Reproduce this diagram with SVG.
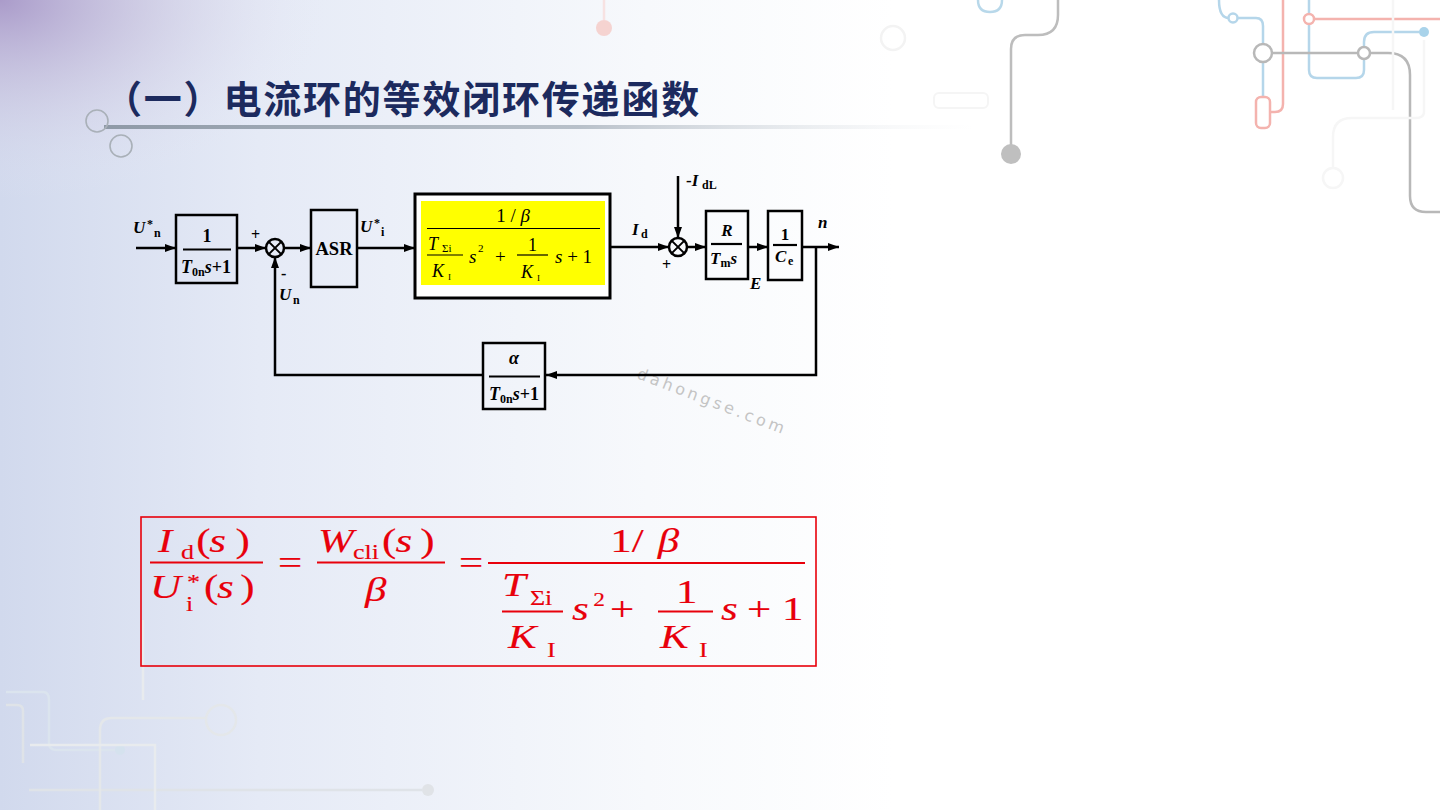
<svg xmlns="http://www.w3.org/2000/svg" width="1440" height="810" viewBox="0 0 1440 810">
<defs>
  <linearGradient id="bgL" x1="0" y1="0" x2="1" y2="0">
    <stop offset="0" stop-color="#d1d9ed"/>
    <stop offset="0.18" stop-color="#e5eaf6"/>
    <stop offset="0.45" stop-color="#f7f9fc"/>
    <stop offset="0.62" stop-color="#ffffff"/>
  </linearGradient>
  <radialGradient id="bgP" cx="0" cy="0" r="1" gradientUnits="userSpaceOnUse" gradientTransform="translate(0,0) scale(330,200)">
    <stop offset="0" stop-color="#a898c8" stop-opacity="0.95"/>
    <stop offset="0.45" stop-color="#c4bad9" stop-opacity="0.5"/>
    <stop offset="1" stop-color="#e8e8f4" stop-opacity="0"/>
  </radialGradient>
  <linearGradient id="ul" x1="0" y1="0" x2="1" y2="0">
    <stop offset="0" stop-color="#8e99a6"/>
    <stop offset="0.55" stop-color="#b9c1ca"/>
    <stop offset="1" stop-color="#e8ebee" stop-opacity="0"/>
  </linearGradient>
  <marker id="ah" viewBox="0 0 11 8" refX="11" refY="4" markerWidth="11" markerHeight="8" markerUnits="userSpaceOnUse" orient="auto">
    <path d="M0,0 L11,4 L0,8 z" fill="#000"/>
  </marker>
  <style>
    .blk { fill: none; stroke: #000; stroke-width: 2.5; }
    .ln { fill: none; stroke: #000; stroke-width: 2.5; }
    .fl { stroke: #000; stroke-width: 2.2; }
    .fl1 { stroke: #000; stroke-width: 1.2; }
    .t { font-family: "Liberation Serif", "Times New Roman", serif; font-weight: bold; fill: #000; }
    .r { font-family: "Liberation Serif", "Times New Roman", serif; fill: #000; }
    .i { font-style: italic; }
    .f { font-family: "Liberation Serif", "Times New Roman", serif; fill: #e8000b; stroke: #e8000b; stroke-width: 0.15; }
    .fline { stroke: #e8000b; stroke-width: 1.8; }
    .deco { fill: none; stroke-width: 2.5; }
  </style>
</defs>

<!-- background -->
<rect x="0" y="0" width="1440" height="810" fill="#ffffff"/>
<rect x="0" y="0" width="1440" height="810" fill="url(#bgL)"/>
<rect x="0" y="0" width="1440" height="810" fill="url(#bgP)"/>

<!-- faint decorative circuit lines -->
<g id="decor">
  <path class="deco" d="M1058,0 V15 Q1058,35 1038,35 H1025 Q1011,35 1011,49 V150" stroke="#bdbdbd"/>
  <circle cx="1011" cy="154" r="10" fill="#bfbfbf"/>
  <path class="deco" d="M978,0 Q978,12 990,12 Q1002,12 1002,0" stroke="#b8d8ea"/>
  <path class="deco" d="M1219,0 Q1219,18 1229,18" stroke="#b5d6ea"/>
  <circle cx="1233" cy="18" r="4.5" fill="#fff" stroke="#b5d6ea" stroke-width="2.5"/>
  <path class="deco" d="M1237.5,18 H1256 Q1263,18 1263,26 V97" stroke="#b5d6ea"/>
  <path class="deco" d="M1309,0 V70 Q1309,78 1317,78 H1356 Q1364,78 1364,70 V59" stroke="#b5d6ea"/>
  <path class="deco" d="M1364,47 V42 Q1364,32 1374,32 H1419" stroke="#b5d6ea"/>
  <circle cx="1424" cy="32" r="5" fill="#a9d3ea"/>
  <path class="deco" d="M1283,0 V104 Q1283,112 1275,112 H1270" stroke="#f4b3ae"/>
  <rect x="1256" y="97" width="14" height="31" rx="5" fill="#fff" stroke="#f4b3ae" stroke-width="2.5"/>
  <path class="deco" d="M1314,19 H1440" stroke="#f4b3ae"/>
  <circle cx="1309" cy="19" r="5" fill="#fff" stroke="#f4b3ae" stroke-width="2.5"/>
  <path class="deco" d="M1272,53 H1358 M1370,53 H1388 Q1410,53 1410,75 V196 Q1410,212 1426,212 H1440" stroke="#b8b8b8"/>
  <circle cx="1263" cy="53" r="9" fill="#fff" stroke="#b8b8b8" stroke-width="2.5"/>
  <circle cx="1364" cy="53" r="6" fill="#fff" stroke="#b8b8b8" stroke-width="2.5"/>
  <path class="deco" d="M1393,0 V110 M1424,40 V112 Q1424,118 1416,118 H1352 Q1333,118 1333,137 V168" stroke="#f6f6f6"/>
  <circle cx="1333" cy="178" r="10" fill="none" stroke="#f6f6f6" stroke-width="2.5"/>
  <rect x="934" y="93" width="54" height="15" rx="5" fill="none" stroke="#f5f5f5" stroke-width="2"/>
  <path class="deco" d="M604,0 V20" stroke="#f7e2e2"/>
  <circle cx="604" cy="28" r="8" fill="#f5c9c6" opacity="0.8"/>
  <circle cx="893" cy="38" r="12" fill="none" stroke="#f3f3f3" stroke-width="2.5"/>
  <!-- bottom-left -->
  <path class="deco" d="M6,692 H43 Q49,692 49,700 V743 Q49,750 57,750 H115" stroke="#dbe4ee"/>
  <circle cx="120" cy="750" r="5" fill="#d5e2ee"/>
  <path class="deco" d="M6,705 H17 Q23,705 23,711 V763 M29,790 H422" stroke="#dfe3e8"/>
  <circle cx="428" cy="790" r="6" fill="#e0e3e7"/>
  <path class="deco" d="M100,810 V730 Q100,718 112,718 H206" stroke="#e4e7ea"/>
  <circle cx="221" cy="720" r="15" fill="none" stroke="#e4e7ea" stroke-width="2.5"/>
  <path class="deco" d="M143,620 V700 M30,745 H155 V810" stroke="#e8ebee"/>
</g>

<!-- title -->
<g id="title">
  <rect x="104" y="125" width="870" height="4" fill="url(#ul)"/>
  <circle cx="97" cy="121" r="11" fill="none" stroke="#a9b0b8" stroke-width="1.6"/>
  <circle cx="121" cy="146" r="11" fill="none" stroke="#a9b0b8" stroke-width="1.6"/>
  <text x="104" y="113" font-family="Noto Sans CJK SC, sans-serif" font-size="38" font-weight="bold" fill="#1c2a5e" letter-spacing="1.8">（一）电流环的等效闭环传递函数</text>
</g>

<!-- watermark -->
<text x="636" y="378" transform="rotate(21 636 378)" font-family="DejaVu Sans, sans-serif" font-size="16" fill="#c4c4c4" letter-spacing="3.5">dahongse.com</text>

<!-- connectors -->
<g id="connectors">
  <path class="ln" d="M136,248 H176" marker-end="url(#ah)"/>
  <path class="ln" d="M237,248 H266" marker-end="url(#ah)"/>
  <path class="ln" d="M284,248 H311" marker-end="url(#ah)"/>
  <path class="ln" d="M357,248 H415" marker-end="url(#ah)"/>
  <path class="ln" d="M610,247 H669" marker-end="url(#ah)"/>
  <path class="ln" d="M678,176 V238" marker-end="url(#ah)"/>
  <path class="ln" d="M687,247 H706" marker-end="url(#ah)"/>
  <path class="ln" d="M748,247 H768" marker-end="url(#ah)"/>
  <path class="ln" d="M802,247 H839" marker-end="url(#ah)"/>
  <path class="ln" d="M816,247 V375 H546" marker-end="url(#ah)"/>
  <path class="ln" d="M483,375 H275 V257" marker-end="url(#ah)"/>
</g>

<g font-size="17">
<!-- input label -->
<g id="label-Un-star">
  <text class="t i" x="133" y="233">U</text>
  <text class="t" x="147" y="228" font-size="12">*</text>
  <text class="t" x="154" y="237" font-size="12">n</text>
</g>

<!-- block 1 -->
<g id="block-prefilter">
  <rect class="blk" x="176" y="215" width="61" height="68"/>
  <text class="t" x="207" y="242" text-anchor="middle" font-size="18">1</text>
  <line class="fl" x1="183" y1="249.5" x2="231" y2="249.5"/>
  <text class="t" x="206" y="273" text-anchor="middle" font-size="18"><tspan class="i">T</tspan><tspan font-size="12" dy="3">0n</tspan><tspan class="i" dy="-3">s</tspan>+1</text>
</g>

<!-- sum 1 -->
<g id="sum1">
  <circle cx="275" cy="248" r="9" fill="none" stroke="#000" stroke-width="2.5"/>
  <path d="M268.6,241.6 L281.4,254.4 M281.4,241.6 L268.6,254.4" stroke="#000" stroke-width="2"/>
  <text class="t" x="251" y="240" font-size="16">+</text>
  <text class="t" x="281" y="279" font-size="16">-</text>
  <text class="t i" x="279" y="300">U</text>
  <text class="t" x="293" y="304" font-size="12">n</text>
</g>

<!-- ASR -->
<g id="block-ASR">
  <rect class="blk" x="311" y="210" width="46" height="77"/>
  <text class="t" x="334" y="255" text-anchor="middle" font-size="18.5">ASR</text>
</g>

<g id="label-Ui-star">
  <text class="t i" x="360" y="232">U</text>
  <text class="t" x="374" y="227" font-size="12">*</text>
  <text class="t" x="381" y="236" font-size="12">i</text>
</g>

<!-- current loop closed block -->
<g id="block-current-loop">
  <rect x="415" y="194" width="195" height="104" fill="#ffffff" stroke="#000" stroke-width="3"/>
  <rect x="421" y="201" width="184" height="84" fill="#ffff00"/>
  <text class="r" x="513" y="222" text-anchor="middle" font-size="19">1 / <tspan class="i">β</tspan></text>
  <line class="fl1" x1="427" y1="228.5" x2="600" y2="228.5"/>
  <text class="r i" x="428" y="250" font-size="18">T</text>
  <text class="r" x="442" y="252" font-size="11">Σi</text>
  <line class="fl1" x1="427" y1="255" x2="463" y2="255"/>
  <text class="r i" x="432" y="277" font-size="18">K</text>
  <text class="r" x="448" y="280" font-size="9">I</text>
  <text class="r i" x="469" y="263" font-size="19">s</text>
  <text class="r" x="478" y="252" font-size="11">2</text>
  <text class="r" x="495" y="263" font-size="19">+</text>
  <text class="r" x="528" y="251" font-size="18">1</text>
  <line class="fl1" x1="517" y1="255" x2="548" y2="255"/>
  <text class="r i" x="521" y="278" font-size="18">K</text>
  <text class="r" x="537" y="281" font-size="9">I</text>
  <text class="r" x="555" y="263" font-size="19"><tspan class="i">s</tspan> + 1</text>
</g>

<g id="label-Id">
  <text class="t i" x="632" y="235">I</text>
  <text class="t" x="641" y="238" font-size="12">d</text>
</g>

<!-- sum 2 -->
<g id="sum2">
  <circle cx="678" cy="247" r="9" fill="none" stroke="#000" stroke-width="2.5"/>
  <path d="M671.6,240.6 L684.4,253.4 M684.4,240.6 L671.6,253.4" stroke="#000" stroke-width="2"/>
  <text class="t" x="662" y="270" font-size="16">+</text>
</g>

<g id="label-IdL">
  <text class="t" x="686" y="186">-<tspan class="i">I</tspan></text>
  <text class="t" x="702" y="189" font-size="12">dL</text>
</g>

<!-- R / Tm s -->
<g id="block-R-Tms">
  <rect class="blk" x="706" y="211" width="42" height="68"/>
  <text class="t i" x="727" y="236" text-anchor="middle">R</text>
  <line class="fl" x1="711" y1="244" x2="742" y2="244"/>
  <text class="t" x="710" y="264"><tspan class="i">T</tspan><tspan font-size="12" dy="3">m</tspan><tspan class="i" dy="-3">s</tspan></text>
</g>

<g id="label-E">
  <text class="t i" x="750" y="289">E</text>
</g>

<!-- 1 / Ce -->
<g id="block-1-Ce">
  <rect class="blk" x="768" y="211" width="34" height="69"/>
  <text class="t" x="785" y="240" text-anchor="middle">1</text>
  <line class="fl" x1="773" y1="245" x2="797" y2="245"/>
  <text class="t i" x="775" y="262">C</text>
  <text class="t" x="788" y="265" font-size="12">e</text>
</g>

<g id="label-n">
  <text class="t i" x="818" y="228">n</text>
</g>

<!-- feedback -->
<g id="block-feedback">
  <rect class="blk" x="483" y="343" width="62" height="66"/>
  <text class="t i" x="514" y="364" text-anchor="middle" font-size="18">α</text>
  <line class="fl" x1="489" y1="376.5" x2="540" y2="376.5"/>
  <text class="t" x="514" y="400" text-anchor="middle" font-size="18"><tspan class="i">T</tspan><tspan font-size="12" dy="3">0n</tspan><tspan class="i" dy="-3">s</tspan>+1</text>
</g>
</g>

<!-- formula -->
<g id="formula">
  <rect x="141" y="517" width="675" height="149" fill="none" stroke="#e8000b" stroke-width="1.6"/>
  <line class="fline" x1="150" y1="562.5" x2="263" y2="562.5"/>
  <line class="fline" x1="317" y1="562.5" x2="445" y2="562.5"/>
  <line class="fline" x1="488" y1="563" x2="805" y2="563"/>
  <line class="fline" x1="502" y1="611.5" x2="563" y2="611.5" stroke-width="1.4"/>
  <line class="fline" x1="658" y1="611.5" x2="713" y2="611.5" stroke-width="1.4"/>
  <g transform="matrix(1.3,0,0,1,-42.3,0)" font-size="33">
    <!-- first fraction -->
    <text class="f i" x="154.1" y="552">I</text>
    <text class="f" x="171.8" y="559" font-size="20">d</text>
    <text class="f" x="183.6" y="552">(</text>
    <text class="f i" x="193.6" y="552">s</text>
    <text class="f" x="213.8" y="552">)</text>
    <text class="f i" x="147.9" y="598">U</text>
    <text class="f" x="176.4" y="589" font-size="20">*</text>
    <text class="f" x="175.6" y="611" font-size="20">i</text>
    <text class="f" x="189.5" y="598">(</text>
    <text class="f i" x="199.5" y="598">s</text>
    <text class="f" x="217.4" y="598">)</text>
    <text class="f" x="246.4" y="574">=</text>
    <!-- second fraction -->
    <text class="f i" x="277.2" y="552">W</text>
    <text class="f" x="304.1" y="559" font-size="20">cli</text>
    <text class="f" x="326.4" y="552">(</text>
    <text class="f i" x="336.7" y="552">s</text>
    <text class="f" x="355.9" y="552">)</text>
    <text class="f i" x="313.3" y="601">β</text>
    <text class="f" x="385.6" y="574">=</text>
    <!-- third fraction -->
    <text class="f" x="502" y="552">1</text>
    <text class="f" x="518.5" y="552">/</text>
    <text class="f i" x="538.5" y="552">β</text>
    <text class="f i" x="418.7" y="596">T</text>
    <text class="f" x="440.2" y="605" font-size="20">Σi</text>
    <text class="f i" x="423.3" y="648">K</text>
    <text class="f" x="453.3" y="657" font-size="20">I</text>
    <text class="f i" x="472.5" y="620">s</text>
    <text class="f" x="488.9" y="606" font-size="18">2</text>
    <text class="f" x="501.8" y="620">+</text>
    <text class="f" x="552.5" y="603">1</text>
    <text class="f i" x="540.2" y="648">K</text>
    <text class="f" x="570.2" y="657" font-size="20">I</text>
    <text class="f i" x="587.2" y="620">s</text>
    <text class="f" x="607.2" y="620">+</text>
    <text class="f" x="634.1" y="620">1</text>
  </g>
</g>
</svg>
